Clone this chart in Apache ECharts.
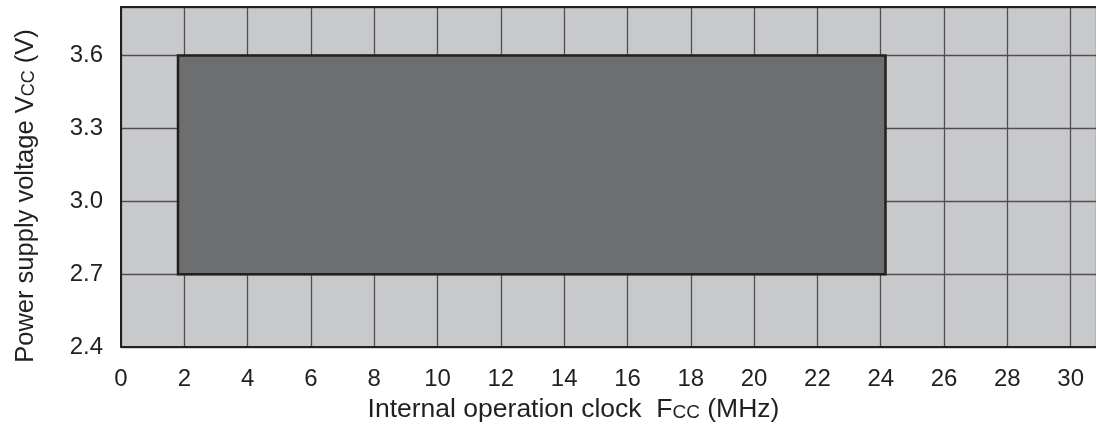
<!DOCTYPE html>
<html>
<head>
<meta charset="utf-8">
<script src="https://cdn.jsdelivr.net/npm/echarts@6/dist/echarts.min.js"></script>
<style>
  html, body { margin: 0; padding: 0; background: #ffffff; }
  #chart { width: 1096px; height: 428px; }
</style>
</head>
<body>
<div id="chart"></div>
<script>
// Frequency axis tick labels (MHz) and voltage axis tick labels (V)
const freqTicks = [0, 2, 4, 6, 8, 10, 12, 14, 16, 18, 20, 22, 24, 26, 28, 30];
const voltTicks = ['2.4', '2.7', '3.0', '3.3', '3.6'];

// Guaranteed operating region: clock range and supply voltage range
const freqRange = [1.8, 24.15];
const voltRange = [2.7, 3.6];

const FONT = '"Liberation Sans", Arial, Helvetica, sans-serif';
const INK = '#231f20';
const GRIDLINE = '#4f4f51';

const chart = echarts.init(document.getElementById('chart'), null, { renderer: 'canvas' });

// Rich-text styles for axis names with a small-caps "CC" subscript
function subRich(main, small) {
  return {
    m: { fontSize: main, lineHeight: 27, verticalAlign: 'bottom', fontFamily: FONT, color: INK },
    s: { fontSize: small, lineHeight: 27, verticalAlign: 'bottom', fontFamily: FONT, color: INK, padding: [0, 0, 1, 0] }
  };
}

chart.setOption({
  animation: false,
  backgroundColor: '#ffffff',
  grid: {
    left: 121, top: 7, right: 0, bottom: 80,
    show: true, backgroundColor: '#c8c9cb', borderWidth: 0
  },
  xAxis: [{
    type: 'value',
    min: 0, max: 30.8, interval: 2,
    position: 'bottom',
    axisLine: { show: true, onZero: false, lineStyle: { color: INK, width: 2 } },
    axisTick: { show: false },
    axisLabel: {
      fontSize: 24, fontFamily: FONT, color: INK, margin: 20,
      showMaxLabel: false,
      formatter: v => (freqTicks.includes(v) ? String(v) : '')
    },
    splitLine: { show: true, lineStyle: { color: GRIDLINE, width: 1.3 } },
    name: '{m|Internal operation clock  F}{s|CC}{m| (MHz)}',
    nameLocation: 'middle',
    nameGap: 49,
    nameTextStyle: { rich: subRich(26.5, 19), padding: [0, 70, 0, 0] }
  }, {
    type: 'value',
    min: 0, max: 30.8,
    position: 'top',
    axisLine: { show: true, onZero: false, lineStyle: { color: INK, width: 2 } },
    axisTick: { show: false },
    axisLabel: { show: false },
    splitLine: { show: false }
  }],
  yAxis: {
    type: 'value',
    min: 2.4, max: 3.8, interval: 0.3,
    axisLine: { show: true, onZero: false, lineStyle: { color: INK, width: 2 } },
    axisTick: { show: false },
    axisLabel: {
      fontSize: 24, fontFamily: FONT, color: INK, margin: 18,
      showMaxLabel: false,
      formatter: v => {
        const s = v.toFixed(1);
        return voltTicks.includes(s) ? s : '';
      }
    },
    splitLine: { show: true, lineStyle: { color: GRIDLINE, width: 1.3 } },
    name: '{m|Power supply voltage V}{s|CC}{m| (V)}',
    nameLocation: 'middle',
    nameGap: 82,
    nameRotate: 90,
    nameTextStyle: { rich: subRich(25.5, 18), padding: [0, 38, 0, 0] }
  },
  series: [{
    type: 'custom',
    xAxisIndex: 0,
    yAxisIndex: 0,
    renderItem: (params, api) => {
      const topLeft = api.coord([api.value(0), api.value(3)]);
      const bottomRight = api.coord([api.value(1), api.value(2)]);
      return {
        type: 'rect',
        shape: {
          x: topLeft[0], y: topLeft[1],
          width: bottomRight[0] - topLeft[0],
          height: bottomRight[1] - topLeft[1]
        },
        style: { fill: '#6d6e70', stroke: INK, lineWidth: 2.5 }
      };
    },
    encode: { x: [0, 1], y: [2, 3] },
    data: [[freqRange[0], freqRange[1], voltRange[0], voltRange[1]]]
  }]
});
</script>
</body>
</html>
